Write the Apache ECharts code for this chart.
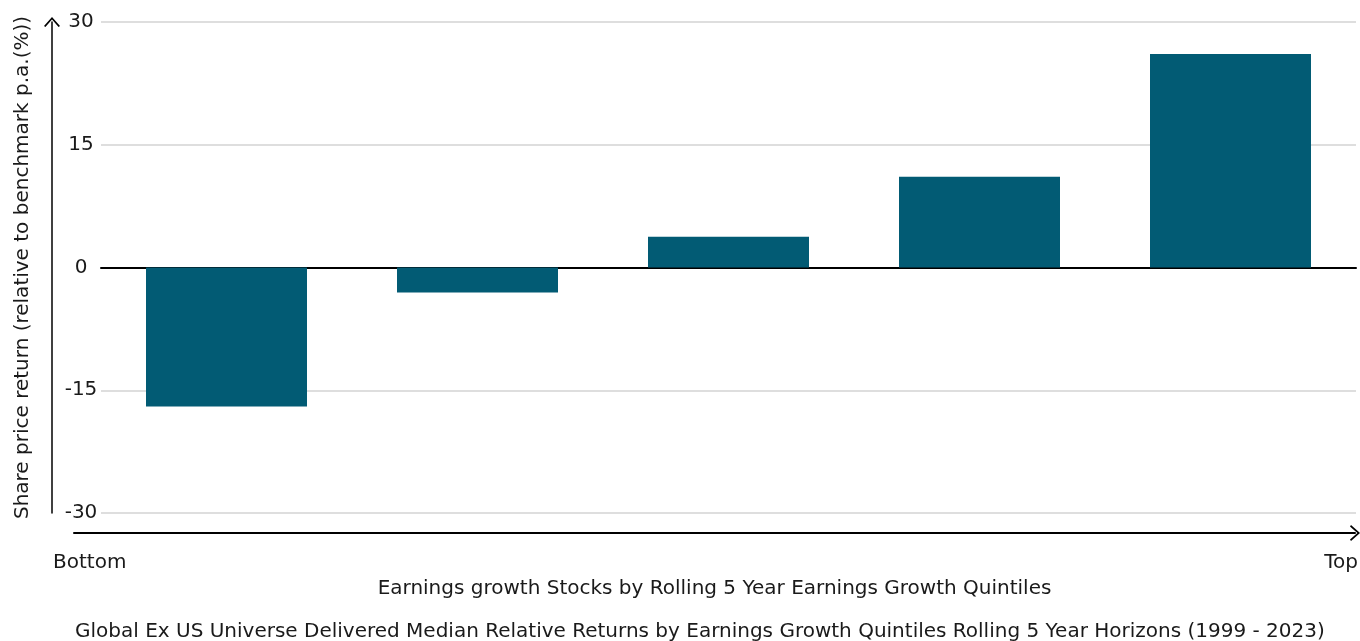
<!DOCTYPE html>
<html>
<head>
<meta charset="utf-8">
<script src="https://cdn.jsdelivr.net/npm/echarts@6/dist/echarts.min.js"></script>
<style>
  html, body { margin: 0; padding: 0; background: #fff; }
  #chart { width: 1360px; height: 641px; }
</style>
</head>
<body>
<div id="chart"></div>
<script>
  // data
  const quintiles = ["Q1", "Q2", "Q3", "Q4", "Q5"];
  const relative_returns = [-17.0, -3.05, 3.75, 11.1, 26.1];
  const end_labels = ["Bottom", "Top"];
  const y_ticks = { min: -30, max: 30, interval: 15 };

  const font = "DejaVu Sans";
  const font_size = 20;
  const text_color = "#1a1a1a";
  const bar_color = "#025b74";
  // open chevron, tip pointing up (ECharts rotates it along the axis)
  const chevron = "path://M0,9 L8,0 L16,9 L14.6,10 L8,2.6 L1.4,10 Z";

  const chart = echarts.init(document.getElementById("chart"));

  chart.setOption({
    backgroundColor: "#fff",
    animation: false,
    textStyle: { fontFamily: font },
    title: {
      text: "Global Ex US Universe Delivered Median Relative Returns by Earnings Growth Quintiles Rolling 5 Year Horizons (1999 - 2023)",
      left: 75,
      top: 622,
      padding: 0,
      textStyle: { fontFamily: font, fontSize: font_size, fontWeight: "normal", color: text_color },
    },
    grid: [
      // bars
      { left: 101, right: 4, top: 22, bottom: 128, containLabel: false, outerBoundsMode: "none" },
      // bottom arrow line + axis title
      { left: 74, right: 5, top: 22, bottom: 108, containLabel: false, outerBoundsMode: "none" },
      // Bottom / Top labels
      { left: 53, right: 2, top: 22, bottom: 108, containLabel: false, outerBoundsMode: "none" },
    ],
    xAxis: [
      {
        type: "category",
        gridIndex: 0,
        data: quintiles,
        axisLine: { onZero: true, lineStyle: { color: "#000", width: 2 } },
        axisTick: { show: false },
        axisLabel: { show: false },
        splitLine: { show: false },
      },
      {
        type: "value",
        gridIndex: 1,
        min: 0,
        max: 1,
        name: "Earnings growth Stocks by Rolling 5 Year Earnings Growth Quintiles",
        nameLocation: "middle",
        nameGap: 46,
        nameTextStyle: { fontFamily: font, fontSize: font_size, color: text_color },
        axisLine: {
          show: true,
          onZero: false,
          symbol: ["none", chevron],
          symbolSize: [16, 10],
          lineStyle: { color: "#000", width: 2 },
        },
        axisTick: { show: false },
        axisLabel: { show: false },
        splitLine: { show: false },
      },
      {
        type: "category",
        gridIndex: 2,
        data: end_labels,
        boundaryGap: false,
        axisLine: { show: false },
        axisTick: { show: false },
        axisLabel: {
          margin: 20,
          fontFamily: font,
          fontSize: font_size,
          color: text_color,
          alignMinLabel: "left",
          alignMaxLabel: "right",
        },
      },
    ],
    yAxis: [
      {
        type: "value",
        gridIndex: 0,
        min: y_ticks.min,
        max: y_ticks.max,
        interval: y_ticks.interval,
        position: "left",
        offset: 49,
        name: "Share price return (relative to benchmark p.a.(%))",
        nameLocation: "middle",
        nameGap: 19,
        nameTextStyle: { fontFamily: font, fontSize: font_size, color: text_color },
        axisLine: {
          show: true,
          symbol: ["none", chevron],
          symbolSize: [16, 10],
          lineStyle: { color: "#000", width: 1.5 },
        },
        axisTick: { show: false },
        axisLabel: {
          inside: true,
          margin: 29,
          align: "center",
          fontFamily: font,
          fontSize: font_size,
          color: text_color,
        },
        splitLine: { lineStyle: { color: "#d3d3d3", width: 1.5 } },
      },
      { type: "value", gridIndex: 1, show: false },
      { type: "value", gridIndex: 2, show: false },
    ],
    series: [
      {
        type: "bar",
        xAxisIndex: 0,
        yAxisIndex: 0,
        data: relative_returns,
        barWidth: 161,
        itemStyle: { color: bar_color },
      },
    ],
  });

  window.addEventListener("resize", chart.resize);
</script>
</body>
</html>
